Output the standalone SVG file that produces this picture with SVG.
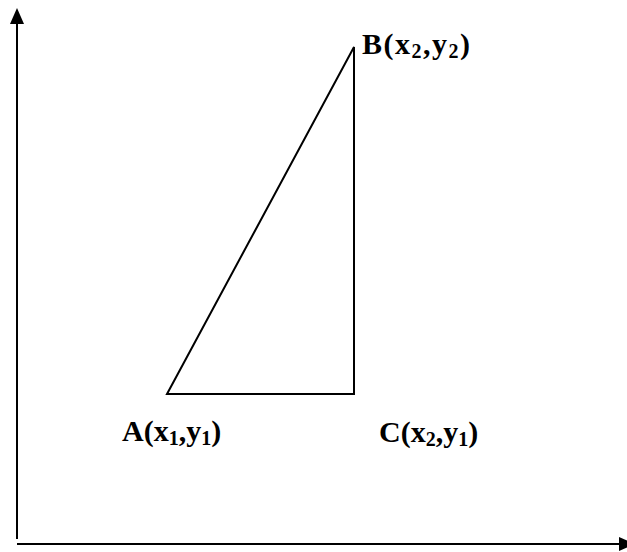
<svg xmlns="http://www.w3.org/2000/svg" width="627" height="552" viewBox="0 0 627 552">
<style>
.ax{stroke:#000;stroke-width:2;fill:none}
.ln{stroke:#000;stroke-width:2;fill:none}
.lb{font-family:"Liberation Serif",serif;font-weight:bold;font-size:30px;fill:#000}
.sb{font-size:20px}
</style>
<rect width="627" height="552" fill="#fff"/>
<g id="connectors">
<path class="ax" d="M17,539 L17,24"/>
<polygon points="17,8 10,24 24,24" fill="#000"/>
<path class="ax" d="M17,544 L620,544"/>
<polygon points="635,544 619,537 619,551" fill="#000"/>
<path class="ln" d="M167,394 L354,47 L354,394 Z"/>
</g>
<g id="nodeB"><text class="lb" x="362" y="54" letter-spacing="1.5">B(x<tspan class="sb" dy="4">2</tspan><tspan dy="-4">,y</tspan><tspan class="sb" dy="4">2</tspan><tspan dy="-4">)</tspan></text></g>
<g id="nodeA"><text class="lb" x="122" y="441">A(x<tspan class="sb" dy="4">1</tspan><tspan dy="-4">,y</tspan><tspan class="sb" dy="4">1</tspan><tspan dy="-4">)</tspan></text></g>
<g id="nodeC"><text class="lb" x="379" y="442">C(x<tspan class="sb" dy="4">2</tspan><tspan dy="-4">,y</tspan><tspan class="sb" dy="4">1</tspan><tspan dy="-4">)</tspan></text></g>
</svg>
